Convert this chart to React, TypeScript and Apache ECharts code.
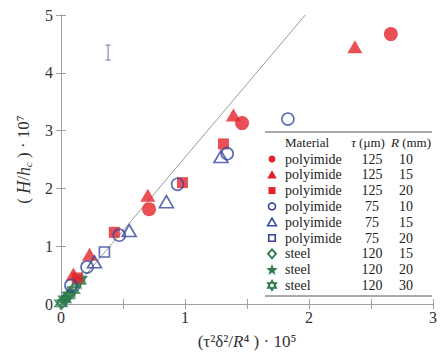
import React, { useEffect, useRef } from "react";
import * as echarts from "echarts";

// ---- data ----
const X_TICK_LABELS = ["0", "1", "2", "3"];
const Y_TICK_LABELS = ["0", "1", "2", "3", "4", "5"];

const legendMaterial = ["polyimide", "polyimide", "polyimide", "polyimide", "polyimide", "polyimide", "steel", "steel", "steel"];
const legendTau = ["125", "125", "125", "75", "75", "75", "120", "120", "120"];
const legendR = ["10", "15", "20", "10", "15", "20", "15", "20", "30"];

const poly125R10: number[][] = [[2.66, 4.67], [1.46, 3.13], [0.71, 1.64]];
const poly125R15: number[][] = [[2.37, 4.45], [1.39, 3.27], [0.7, 1.88], [0.23, 0.86], [0.1, 0.52]];
const poly125R20: number[][] = [[1.31, 2.77], [0.98, 2.1], [0.43, 1.24], [0.13, 0.45]];
const poly75R10: number[][] = [[1.83, 3.2], [1.34, 2.6], [0.94, 2.07], [0.47, 1.19], [0.21, 0.64], [0.08, 0.32]];
const poly75R15: number[][] = [[1.29, 2.55], [0.85, 1.77], [0.55, 1.27], [0.27, 0.73]];
const poly75R20: number[][] = [[0.35, 0.9]];
const steelR15: number[][] = [[0.01, 0.03], [0.04, 0.1], [0.07, 0.17], [0.11, 0.28]];
const steelR20: number[][] = [[0.02, 0.06], [0.05, 0.13], [0.09, 0.22], [0.14, 0.36], [0.17, 0.46]];
const steelR30: number[][] = [[0.0, 0.01], [0.03, 0.08], [0.06, 0.15], [0.1, 0.24], [0.15, 0.4]];

const fitLine: number[][] = [[0, 0], [1.97, 5]];
const errorBar: number[][] = [[0.38, 4.22, 4.48]];

const RED = "#e3232b";
const BLUE = "#34449c";
const GREEN = "#2f7a4c";
const AXIS = "#a0a0a0";
const SERIF = "'Liberation Serif', 'DejaVu Serif', serif";

const STAR = "path://M0,-10 L2.35,-3.24 L9.51,-3.09 L3.8,1.24 L5.88,8.09 L0,4 L-5.88,8.09 L-3.8,1.24 L-9.51,-3.09 L-2.35,-3.24 Z";
const HEXAGRAM = "path://M0,-10 L8.66,5 L-8.66,5 Z M0,10 L-8.66,-5 L8.66,-5 Z";

function starPoints(cx: number, cy: number, r: number) {
  const pts: number[][] = [];
  for (let i = 0; i < 10; i++) {
    const a = -Math.PI / 2 + (i * Math.PI) / 5;
    const rr = i % 2 === 0 ? r : r * 0.42;
    pts.push([cx + rr * Math.cos(a), cy + rr * Math.sin(a)]);
  }
  return pts;
}
function triPoints(cx: number, cy: number, r: number, up: boolean) {
  const s = up ? 1 : -1;
  return [
    [cx, cy - s * r],
    [cx + r * 0.866, cy + s * r * 0.5],
    [cx - r * 0.866, cy + s * r * 0.5],
  ];
}

export default function App() {
  const ref = useRef<HTMLDivElement>(null);
  useEffect(() => {
    if (!ref.current) return;
    const chart = echarts.init(ref.current, undefined, { renderer: "svg" });

    const open = (c: string) => ({ color: "rgba(0,0,0,0)", borderColor: c, borderWidth: 1.6 });
    const filled = (c: string) => ({ color: c });

    // legend table graphics
    const lx0 = 265, lx1 = 432, markX = 272, textX = 285, tauX = 372, rX = 406;
    const rowY = (i: number) => 159 + i * 15.8;
    const legendEls: any[] = [
      { type: "line", shape: { x1: lx0, y1: 132, x2: lx1, y2: 132 }, style: { stroke: "#555", lineWidth: 1 } },
      { type: "line", shape: { x1: lx0, y1: 296, x2: lx1, y2: 296 }, style: { stroke: "#555", lineWidth: 1 } },
      { type: "text", x: textX, y: 142, style: { text: "Material", font: `13px ${SERIF}`, fill: "#222", verticalAlign: "middle", align: "left" } },
      {
        type: "text", x: 368, y: 142,
        style: { text: "{i|τ} (μm)", font: `13px ${SERIF}`, fill: "#222", verticalAlign: "middle", align: "center", rich: { i: { fontStyle: "italic", fontFamily: SERIF, fontSize: 13 } } },
      },
      {
        type: "text", x: 411, y: 142,
        style: { text: "{i|R} (mm)", font: `13px ${SERIF}`, fill: "#222", verticalAlign: "middle", align: "center", rich: { i: { fontStyle: "italic", fontFamily: SERIF, fontSize: 13 } } },
      },
    ];
    legendMaterial.forEach((m, i) => {
      const y = rowY(i);
      legendEls.push({ type: "text", x: textX, y, style: { text: m, font: `14px ${SERIF}`, fill: "#222", verticalAlign: "middle", align: "left" } });
      legendEls.push({ type: "text", x: tauX, y, style: { text: legendTau[i], font: `14px ${SERIF}`, fill: "#222", verticalAlign: "middle", align: "center" } });
      legendEls.push({ type: "text", x: rX, y, style: { text: legendR[i], font: `14px ${SERIF}`, fill: "#222", verticalAlign: "middle", align: "center" } });
    });
    const mk = (i: number) => rowY(i);
    legendEls.push(
      { type: "circle", shape: { cx: markX, cy: mk(0), r: 3.5 }, style: { fill: RED } },
      { type: "polygon", shape: { points: triPoints(markX, mk(1) + 1, 5.5, true) }, style: { fill: RED } },
      { type: "rect", shape: { x: markX - 3.5, y: mk(2) - 3.5, width: 7, height: 7 }, style: { fill: RED } },
      { type: "circle", shape: { cx: markX, cy: mk(3), r: 3.5 }, style: { fill: "none", stroke: BLUE, lineWidth: 1.6 } },
      { type: "polygon", shape: { points: triPoints(markX, mk(4) + 1, 5, true) }, style: { fill: "none", stroke: BLUE, lineWidth: 1.6 } },
      { type: "rect", shape: { x: markX - 3.2, y: mk(5) - 3.2, width: 6.4, height: 6.4 }, style: { fill: "none", stroke: BLUE, lineWidth: 1.6 } },
      { type: "polygon", shape: { points: [[markX, mk(6) - 4.5], [markX + 4, mk(6)], [markX, mk(6) + 4.5], [markX - 4, mk(6)]] }, style: { fill: "none", stroke: GREEN, lineWidth: 1.8 } },
      { type: "polygon", shape: { points: starPoints(markX, mk(7) + 0.5, 6) }, style: { fill: GREEN } },
      { type: "polygon", shape: { points: triPoints(markX, mk(8), 5, true) }, style: { fill: "none", stroke: GREEN, lineWidth: 1.5 } },
      { type: "polygon", shape: { points: triPoints(markX, mk(8), 5, false) }, style: { fill: "none", stroke: GREEN, lineWidth: 1.5 } }
    );

    const axisLabelX = {
      fontFamily: SERIF, fontSize: 16, color: "#333", margin: 5,
      formatter: (v: number) => (Number.isInteger(v) ? X_TICK_LABELS[v] ?? "" : ""),
    };
    const axisLabelY = {
      fontFamily: SERIF, fontSize: 16, color: "#333", margin: 8,
      formatter: (v: number) => Y_TICK_LABELS[Math.round(v)] ?? "",
    };

    chart.setOption({
      animation: false,
      backgroundColor: "#fff",
      grid: { left: 61, right: 7, top: 15, bottom: 53, containLabel: false },
      xAxis: [
        {
          type: "value", min: 0, max: 3, interval: 0.5, position: "bottom",
          axisLine: { show: true, lineStyle: { color: AXIS, width: 1 } },
          axisTick: { show: true, inside: true, length: 5, lineStyle: { color: AXIS } },
          axisLabel: axisLabelX,
          splitLine: { show: false },
          name: "(τ²δ²/{i|R}⁴ ) · 10⁵",
          nameLocation: "middle",
          nameGap: 29,
          nameTextStyle: { fontFamily: SERIF, fontSize: 17, color: "#333", rich: { i: { fontStyle: "italic", fontFamily: SERIF, fontSize: 17, color: "#333" } } },
        },
        {
          type: "value", min: 0, max: 3, interval: 0.5, position: "top",
          axisLine: { show: true, lineStyle: { color: AXIS, width: 1 } },
          axisTick: { show: true, inside: true, length: 5, lineStyle: { color: AXIS } },
          axisLabel: { show: false },
          splitLine: { show: false },
        },
      ],
      yAxis: [
        {
          type: "value", min: 0, max: 5, interval: 1, position: "left",
          axisLine: { show: true, lineStyle: { color: AXIS, width: 1 } },
          axisTick: { show: true, inside: true, length: 5, lineStyle: { color: AXIS } },
          axisLabel: axisLabelY,
          splitLine: { show: false },
          name: "( {i|H}/{i|h}{sub|c} ) · 10⁷",
          nameLocation: "middle",
          nameGap: 28,
          nameTextStyle: {
            fontFamily: SERIF, fontSize: 17, color: "#333",
            rich: {
              i: { fontStyle: "italic", fontFamily: SERIF, fontSize: 18, color: "#333" },
              sub: { fontStyle: "italic", fontFamily: SERIF, fontSize: 11, color: "#333", verticalAlign: "bottom", padding: [8, 0, 0, 0] },
            },
          },
        },
        {
          type: "value", min: 0, max: 5, interval: 1, position: "right",
          axisLine: { show: true, lineStyle: { color: AXIS, width: 1 } },
          axisTick: { show: true, inside: true, length: 5, lineStyle: { color: AXIS } },
          axisLabel: { show: false },
          splitLine: { show: false },
        },
      ],
      graphic: legendEls,
      series: [
        {
          type: "line", data: fitLine, symbol: "none", silent: true,
          lineStyle: { color: "#9a9a9a", width: 1 }, z: 1,
        },
        {
          type: "custom", data: errorBar, encode: { x: 0, y: [1, 2] }, z: 2,
          renderItem: (params: any, api: any) => {
            const x = api.value(0);
            const p1 = api.coord([x, api.value(1)]);
            const p2 = api.coord([x, api.value(2)]);
            const st = { stroke: "#8090b0", lineWidth: 1.2 };
            return {
              type: "group",
              children: [
                { type: "line", shape: { x1: p1[0], y1: p1[1], x2: p2[0], y2: p2[1] }, style: st },
                { type: "line", shape: { x1: p1[0] - 2.5, y1: p1[1], x2: p1[0] + 2.5, y2: p1[1] }, style: st },
                { type: "line", shape: { x1: p2[0] - 2.5, y1: p2[1], x2: p2[0] + 2.5, y2: p2[1] }, style: st },
              ],
            };
          },
        },
        { type: "scatter", data: steelR15, symbol: "diamond", symbolSize: [10, 12], itemStyle: open(GREEN), z: 3 },
        { type: "scatter", data: steelR20, symbol: STAR, symbolSize: 13, itemStyle: filled(GREEN), z: 3 },
        { type: "scatter", data: steelR30, symbol: HEXAGRAM, symbolSize: 12, itemStyle: open(GREEN), z: 3 },
        { type: "scatter", data: poly125R10, symbol: "circle", symbolSize: 14, itemStyle: filled(RED), z: 4 },
        { type: "scatter", data: poly125R15, symbol: "triangle", symbolSize: [15, 13], itemStyle: filled(RED), z: 4 },
        { type: "scatter", data: poly125R20, symbol: "rect", symbolSize: 11, itemStyle: filled(RED), z: 4 },
        { type: "scatter", data: poly75R10, symbol: "circle", symbolSize: 12, itemStyle: open(BLUE), z: 5 },
        { type: "scatter", data: poly75R15, symbol: "triangle", symbolSize: [14, 12], itemStyle: open(BLUE), z: 5 },
        { type: "scatter", data: poly75R20, symbol: "rect", symbolSize: 10, itemStyle: open(BLUE), z: 5 },
      ],
    });
    return () => chart.dispose();
  }, []);
  return <div ref={ref} style={{ position: "fixed", left: 0, top: 0, width: 440, height: 357, background: "#fff" }} />;
}
